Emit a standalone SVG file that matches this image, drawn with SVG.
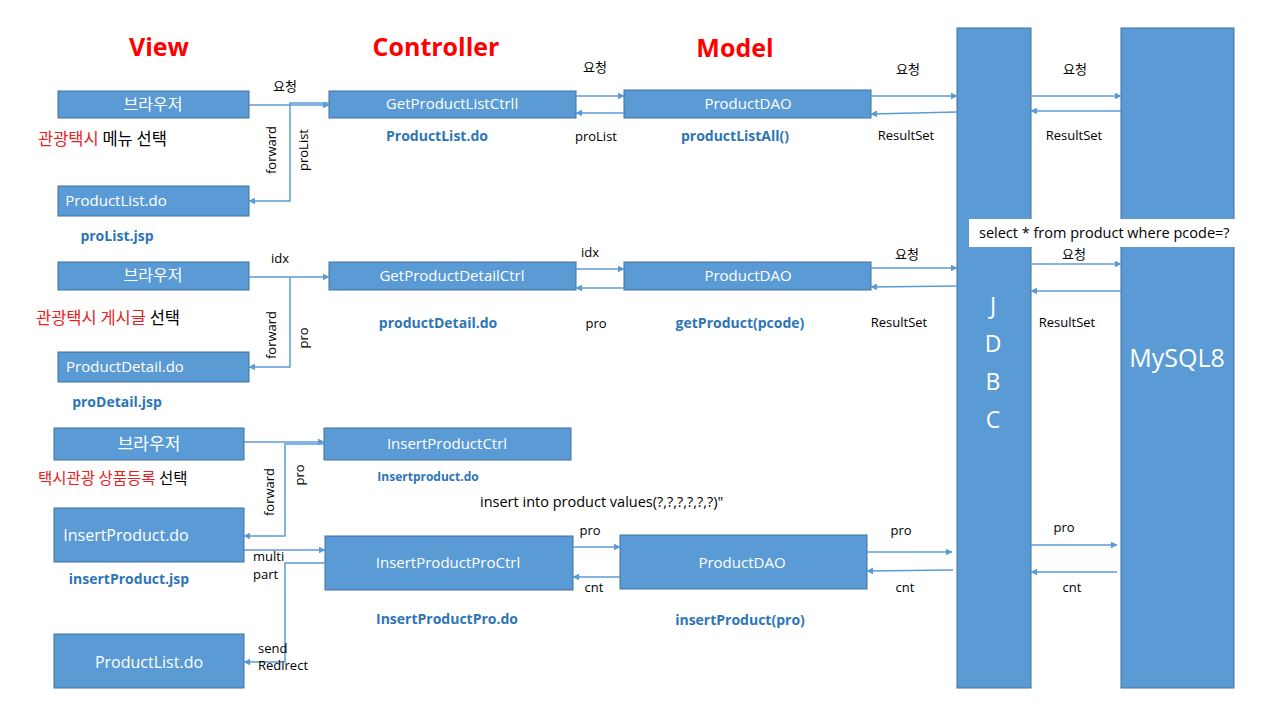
<svg xmlns="http://www.w3.org/2000/svg" width="1280" height="720" viewBox="0 0 1280 720">
<defs>
<marker id="ah" viewBox="0 0 10 10" refX="9" refY="5" markerWidth="7" markerHeight="7" markerUnits="userSpaceOnUse" orient="auto"><path d="M0,0 L10,5 L0,10 z" fill="#5B9BD5"/></marker>
</defs>
<style>
.box{fill:#5B9BD5;stroke:#41719C;stroke-width:1}
.bt{fill:#fff;font-family:"Open Sans","Noto Sans","Noto Sans CJK KR",sans-serif;font-size:15px;text-anchor:middle}
.bt2{fill:#fff;font-family:"Open Sans","Noto Sans","Noto Sans CJK KR",sans-serif;font-size:16px;text-anchor:middle}
.kt{fill:#fff;font-family:"Noto Sans CJK KR",sans-serif;font-size:16px;text-anchor:middle}
.lb{fill:#000;font-family:"Open Sans","Noto Sans","Noto Sans CJK KR",sans-serif;font-size:13px;text-anchor:middle}
.lbl{fill:#000;font-family:"Open Sans","Noto Sans","Noto Sans CJK KR",sans-serif;font-size:13px}
.hd{fill:#FF0000;font-family:"Open Sans","Noto Sans",sans-serif;font-size:25px;font-weight:bold;text-anchor:middle}
.bl{fill:#2E75B6;font-family:"Open Sans","Noto Sans",sans-serif;font-size:14px;font-weight:bold;text-anchor:middle}
.kr{font-family:"Noto Sans CJK KR",sans-serif;font-size:16.5px}
.c{fill:none;stroke:#5B9BD5;stroke-width:1.5}
</style>
<rect width="1280" height="720" fill="#fff"/>

<g id="headers">
<text class="hd" x="159" y="56">View</text>
<text class="hd" x="436" y="56">Controller</text>
<text class="hd" x="735" y="57">Model</text>
</g>

<g id="jdbc"><rect class="box" x="957" y="28" width="74" height="660"/>
<text class="bt2" x="993" y="314" style="font-size:23px">J</text>
<text class="bt2" x="993" y="352" style="font-size:23px">D</text>
<text class="bt2" x="993" y="390" style="font-size:23px">B</text>
<text class="bt2" x="993" y="428" style="font-size:23px">C</text></g>
<g id="mysql"><rect class="box" x="1121" y="28" width="113" height="660"/>
<text class="bt2" x="1177" y="367" style="font-size:25px">MySQL8</text></g>
<g id="select-note"><rect x="969" y="219" width="268" height="28" fill="#fff"/>
<text class="lbl" x="979" y="238" style="font-size:14.5px">select * from product where pcode=?</text></g>

<!-- Row 1 -->
<g id="browser1"><rect class="box" x="58" y="91" width="191" height="27"/><text class="kt" x="153" y="110">브라우저</text></g>
<g id="productlist1"><rect class="box" x="58" y="186" width="191" height="30"/><text class="bt" x="116" y="206">ProductList.do</text></g>
<g id="getlistctrl"><rect class="box" x="329" y="91" width="247" height="27"/><text class="bt" x="452" y="109">GetProductListCtrll</text></g>
<g id="dao1"><rect class="box" x="624" y="90" width="247" height="28"/><text class="bt" x="748" y="109">ProductDAO</text></g>

<!-- Row 2 -->
<g id="browser2"><rect class="box" x="58" y="262" width="191" height="28"/><text class="kt" x="153" y="281">브라우저</text></g>
<g id="productdetail"><rect class="box" x="58" y="352" width="191" height="30"/><text class="bt" x="125" y="372">ProductDetail.do</text></g>
<g id="getdetailctrl"><rect class="box" x="329" y="262" width="247" height="28"/><text class="bt" x="452" y="281">GetProductDetailCtrl</text></g>
<g id="dao2"><rect class="box" x="624" y="262" width="247" height="28"/><text class="bt" x="748" y="281">ProductDAO</text></g>

<!-- Row 3 -->
<g id="browser3"><rect class="box" x="54" y="428" width="190" height="32"/><text class="kt" x="149" y="450" style="font-size:17px">브라우저</text></g>
<g id="insertproduct"><rect class="box" x="54" y="508" width="190" height="54"/><text class="bt2" x="126" y="541">InsertProduct.do</text></g>
<g id="productlist3"><rect class="box" x="54" y="634" width="190" height="54"/><text class="bt2" x="149" y="668">ProductList.do</text></g>
<g id="insertctrl"><rect class="box" x="324" y="428" width="247" height="32"/><text class="bt" x="447" y="449">InsertProductCtrl</text></g>
<g id="insertproctrl"><rect class="box" x="325" y="536" width="248" height="54"/><text class="bt" x="448" y="568">InsertProductProCtrl</text></g>
<g id="dao3"><rect class="box" x="620" y="535" width="247" height="54"/><text class="bt" x="742" y="568">ProductDAO</text></g>

<g id="connectors">
<!-- row1 -->
<path class="c" d="M249,105 H329" marker-end="url(#ah)"/>
<path class="c" d="M329,103 H290 V201 H249" marker-end="url(#ah)"/>
<path class="c" d="M576,96 H624" marker-end="url(#ah)"/>
<path class="c" d="M624,113 H576" marker-end="url(#ah)"/>
<path class="c" d="M871,96 H957" marker-end="url(#ah)"/>
<path class="c" d="M957,112 L871,114" marker-end="url(#ah)"/>
<path class="c" d="M1031,96 H1121" marker-end="url(#ah)"/>
<path class="c" d="M1121,111 H1031" marker-end="url(#ah)"/>
<!-- row2 -->
<path class="c" d="M249,277 H329" marker-end="url(#ah)"/>
<path class="c" d="M290,277 V367 H249" marker-end="url(#ah)"/>
<path class="c" d="M576,269 H624" marker-end="url(#ah)"/>
<path class="c" d="M624,288 H576" marker-end="url(#ah)"/>
<path class="c" d="M871,268 H957" marker-end="url(#ah)"/>
<path class="c" d="M957,286 L871,287" marker-end="url(#ah)"/>
<path class="c" d="M1031,264 H1121" marker-end="url(#ah)"/>
<path class="c" d="M1121,291 H1031" marker-end="url(#ah)"/>
<!-- row3 -->
<path class="c" d="M244,442 H324" marker-end="url(#ah)"/>
<path class="c" d="M324,444 H285 V536 H244" marker-end="url(#ah)"/>
<path class="c" d="M244,550 H325" marker-end="url(#ah)"/>
<path class="c" d="M325,563 H285 V662 H244" marker-end="url(#ah)"/>
<path class="c" d="M573,547 H620" marker-end="url(#ah)"/>
<path class="c" d="M620,577 H573" marker-end="url(#ah)"/>
<path class="c" d="M867,552 H952" marker-end="url(#ah)"/>
<path class="c" d="M953,570 L867,571" marker-end="url(#ah)"/>
<path class="c" d="M1031,545 H1117" marker-end="url(#ah)"/>
<path class="c" d="M1117,572 H1031" marker-end="url(#ah)"/>
</g>

<g id="labels">
<text class="lb" x="285" y="91">요청</text>
<text class="lb" x="595" y="72">요청</text>
<text class="lb" x="908" y="74">요청</text>
<text class="lb" x="1075" y="74">요청</text>
<text class="lb" x="596" y="141">proList</text>
<text class="lb" x="906" y="140">ResultSet</text>
<text class="lb" x="1074" y="140">ResultSet</text>
<text class="lb" transform="translate(276,150) rotate(-90)">forward</text>
<text class="lb" transform="translate(308,150) rotate(-90)">proList</text>

<text class="lb" x="280" y="263">idx</text>
<text class="lb" x="590" y="257">idx</text>
<text class="lb" x="596" y="328">pro</text>
<text class="lb" x="907" y="259">요청</text>
<text class="lb" x="899" y="327">ResultSet</text>
<text class="lb" x="1074" y="259">요청</text>
<text class="lb" x="1067" y="327">ResultSet</text>
<text class="lb" transform="translate(276,335) rotate(-90)">forward</text>
<text class="lb" transform="translate(308,338) rotate(-90)">pro</text>

<text class="lb" transform="translate(274,492) rotate(-90)">forward</text>
<text class="lb" transform="translate(304,475) rotate(-90)">pro</text>
<text class="lbl" x="253" y="561">multi</text>
<text class="lbl" x="253" y="579">part</text>
<text class="lbl" x="258" y="653">send</text>
<text class="lbl" x="258" y="670">Redirect</text>
<text class="lb" x="590" y="535">pro</text>
<text class="lb" x="594" y="592">cnt</text>
<text class="lb" x="901" y="535">pro</text>
<text class="lb" x="905" y="592">cnt</text>
<text class="lb" x="1064" y="532">pro</text>
<text class="lb" x="1072" y="592">cnt</text>
<text class="lbl" x="480" y="507" style="font-size:14.5px">insert into product values(?,?,?,?,?,?)"</text>

<text class="bl" x="437" y="141">ProductList.do</text>
<text class="bl" x="735" y="141">productListAll()</text>
<text class="bl" x="117" y="241">proList.jsp</text>
<text class="bl" x="438" y="328">productDetail.do</text>
<text class="bl" x="740" y="328">getProduct(pcode)</text>
<text class="bl" x="117" y="407">proDetail.jsp</text>
<text class="bl" x="428" y="481" style="font-size:12px">Insertproduct.do</text>
<text class="bl" x="129" y="584">insertProduct.jsp</text>
<text class="bl" x="447" y="624">InsertProductPro.do</text>
<text class="bl" x="740" y="625">insertProduct(pro)</text>

<text class="kr" x="38" y="145"><tspan fill="#E8201E">관광택시</tspan><tspan fill="#000"> 메뉴 선택</tspan></text>
<text class="kr" x="36" y="324"><tspan fill="#E8201E">관광택시 게시글</tspan><tspan fill="#000"> 선택</tspan></text>
<text class="kr" x="38" y="484" style="font-size:15.5px"><tspan fill="#E8201E">택시관광 상품등록</tspan><tspan fill="#000"> 선택</tspan></text>
</g>
</svg>
